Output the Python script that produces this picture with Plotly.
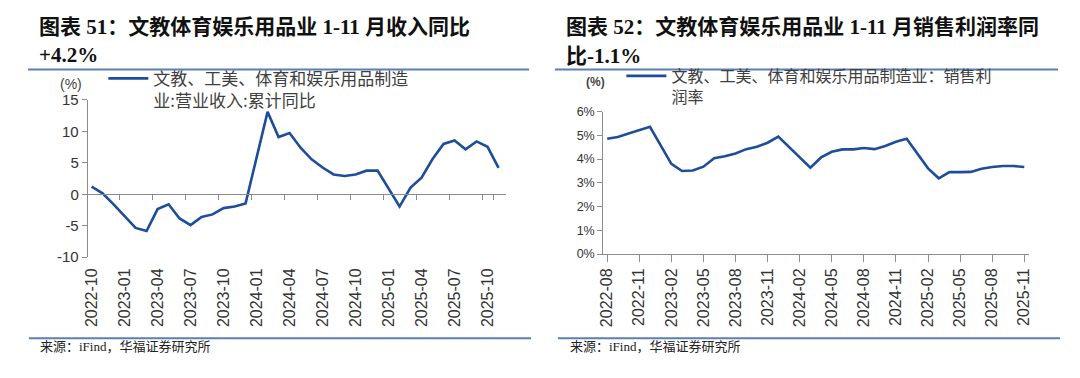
import plotly.graph_objects as go

# ---------------- data ----------------
left_months = ["2022-10", "2022-11", "2022-12",
               "2023-01", "2023-02", "2023-03", "2023-04", "2023-05", "2023-06",
               "2023-07", "2023-08", "2023-09", "2023-10", "2023-11", "2023-12",
               "2024-01", "2024-02", "2024-03", "2024-04", "2024-05", "2024-06",
               "2024-07", "2024-08", "2024-09", "2024-10", "2024-11", "2024-12",
               "2025-01", "2025-02", "2025-03", "2025-04", "2025-05", "2025-06",
               "2025-07", "2025-08", "2025-09", "2025-10", "2025-11"]
left_values = [1.2, 0.15, -1.6,
               None, -5.35, -5.85, -2.35, -1.6, -3.85,
               -4.9, -3.6, -3.2, -2.2, -1.95, -1.45,
               None, 13.1, 9.1, 9.75, 7.4, 5.55,
               4.25, 3.15, 2.9, 3.15, 3.75, 3.75,
               None, -1.95, 1.05, 2.65, 5.6, 8.0,
               8.55, 7.15, 8.4, 7.55, 4.2]
left_ticks = left_months[::3]
left_yvals = [-10, -5, 0, 5, 10, 15]
left_ylabels = ["-10", "-5", "0", "5", "10", "15"]
left_name = "文教、工美、体育和娱乐用品制造<br>业:营业收入:累计同比"

right_months = ["2022-08", "2022-09", "2022-10", "2022-11", "2022-12",
                "2023-01", "2023-02", "2023-03", "2023-04", "2023-05", "2023-06",
                "2023-07", "2023-08", "2023-09", "2023-10", "2023-11", "2023-12",
                "2024-01", "2024-02", "2024-03", "2024-04", "2024-05", "2024-06",
                "2024-07", "2024-08", "2024-09", "2024-10", "2024-11", "2024-12",
                "2025-01", "2025-02", "2025-03", "2025-04", "2025-05", "2025-06",
                "2025-07", "2025-08", "2025-09", "2025-10", "2025-11"]
right_values = [4.86, 4.93, 5.08, 5.22, 5.36,
                None, 3.8, 3.5, 3.52, 3.68, 4.04,
                4.12, 4.24, 4.42, 4.52, 4.69, 4.95,
                None, None, 3.64, 4.07, 4.31, 4.41,
                4.41, 4.47, 4.42, 4.55, 4.73, 4.86,
                None, 3.61, 3.19, 3.45, 3.45, 3.46,
                3.59, 3.67, 3.71, 3.71, 3.67]
right_ticks = right_months[::3]
right_name = "文教、工美、体育和娱乐用品制造业：销售利<br>润率"

left_title = ["图表 51：文教体育娱乐用品业 1-11 月收入同比", "+4.2%"]
right_title = ["图表 52：文教体育娱乐用品业 1-11 月销售利润率同", "比-1.1%"]
source_text = "来源：iFind，华福证券研究所"

# ---------------- style ----------------
PAGE_W, PAGE_H = 1080, 378
BODY_MARGIN = 8          # default page margin around the plot div
W, H = PAGE_W - 2 * BODY_MARGIN, PAGE_H - 2 * BODY_MARGIN
LINE = "#1e4d9b"
AX = "#8c8c8c"
TICKC = "#333333"
RULE = "#5a7fb3"
CJK = "Noto Sans CJK SC"
SANS = "Liberation Sans, Arial, " + CJK
SERIF = "Liberation Serif, Times New Roman, " + CJK


def px(x):
    """page pixel x -> paper fraction"""
    return (x - BODY_MARGIN) / W


def py(y):
    """page pixel y (from top) -> paper fraction"""
    return 1 - (y - BODY_MARGIN) / H


L_dom_x = [px(83.3), px(505)]
L_dom_y = [py(260), py(95)]
R_dom_x = [px(602.7), px(1031.7)]
R_dom_y = [py(256.7), py(107.3)]

L_yr = [-10, 15]
zero_pos = L_dom_y[0] + (0 - L_yr[0]) / (L_yr[1] - L_yr[0]) * (L_dom_y[1] - L_dom_y[0])

fig = go.Figure()

fig.add_trace(go.Scatter(
    x=left_months, y=left_values, mode="lines", name=left_name,
    line=dict(color=LINE, width=2.6), connectgaps=True,
    xaxis="x", yaxis="y", legend="legend", hoverinfo="skip"))
# invisible copy that carries the zero-crossing axis with its tick marks
fig.add_trace(go.Scatter(
    x=left_months, y=left_values, mode="lines", showlegend=False,
    line=dict(color="rgba(0,0,0,0)", width=0), connectgaps=True,
    xaxis="x3", yaxis="y", hoverinfo="skip"))
fig.add_trace(go.Scatter(
    x=right_months, y=right_values, mode="lines", name=right_name,
    line=dict(color=LINE, width=2.6), connectgaps=True,
    xaxis="x2", yaxis="y2", legend="legend2", hoverinfo="skip"))

tickfont_x = dict(family=SANS, size=16, color=TICKC)

fig.update_layout(
    width=W, height=H,
    margin=dict(l=0, r=0, t=0, b=0),
    paper_bgcolor="white", plot_bgcolor="white",
    font=dict(family=SANS, color=TICKC),
    xaxis=dict(domain=L_dom_x, anchor="y", type="category",
               categoryorder="array", categoryarray=left_months,
               range=[-0.35, 37.7], tickmode="array", tickvals=left_ticks,
               ticktext=left_ticks, tickangle=-90, ticks="", showline=False,
               showgrid=False, zeroline=False, tickfont=tickfont_x,
               ticklabelstandoff=7),
    xaxis3=dict(overlaying="x", matches="x", anchor="free", position=zero_pos,
                type="category", tickmode="array", tickvals=left_ticks,
                tickson="boundaries", ticks="outside", ticklen=5, tickcolor=AX,
                showticklabels=False, showline=True, linecolor=AX, linewidth=1,
                showgrid=False, zeroline=False),
    yaxis=dict(domain=L_dom_y, anchor="x", range=L_yr,
               tickmode="array", tickvals=left_yvals, ticktext=left_ylabels,
               ticks="outside", ticklen=5, tickcolor=AX, showline=True,
               linecolor=AX, linewidth=1, showgrid=False, zeroline=False,
               tickfont=dict(family=SANS, size=15, color=TICKC)),
    xaxis2=dict(domain=R_dom_x, anchor="y2", type="category",
                categoryorder="array", categoryarray=right_months,
                range=[-0.37, 39.44], tickmode="array", tickvals=right_ticks,
                ticktext=right_ticks, tickangle=-90, ticks="outside", ticklen=7,
                tickcolor=AX, showline=True, linecolor=AX, linewidth=1,
                showgrid=False, zeroline=False, tickfont=tickfont_x),
    yaxis2=dict(domain=R_dom_y, anchor="x2", range=[0, 6], dtick=1,
                ticksuffix="%", ticks="outside", ticklen=5, tickcolor=AX,
                showline=True, linecolor=AX, linewidth=1, showgrid=False,
                zeroline=False, tickfont=dict(family=SANS, size=12.5, color=TICKC)),
    legend=dict(x=px(99), y=py(54), xanchor="left", yanchor="top",
                bgcolor="rgba(0,0,0,0)", borderwidth=0, valign="top",
                font=dict(family=CJK, size=17, color="#404040"),
                itemwidth=40, tracegroupgap=0),
    legend2=dict(x=px(621), y=py(52), xanchor="left", yanchor="top",
                 bgcolor="rgba(0,0,0,0)", borderwidth=0, valign="top",
                 font=dict(family=CJK, size=16, color="#404040"),
                 itemwidth=40, tracegroupgap=0),
    showlegend=True,
)

ann = []
title_font = dict(family=SERIF, size=21, color="#111111")
for txt, yy in zip(left_title, [18, 47.5]):
    ann.append(dict(text="<b>" + txt + "</b>", x=px(32), y=py(yy), xref="paper",
                    yref="paper", xanchor="left", yanchor="middle",
                    showarrow=False, font=title_font))
for txt, yy in zip(right_title, [18, 49]):
    ann.append(dict(text="<b>" + txt + "</b>", x=px(563), y=py(yy), xref="paper",
                    yref="paper", xanchor="left", yanchor="middle",
                    showarrow=False, font=title_font))
for xx in [33, 567]:
    ann.append(dict(text=source_text, x=px(xx), y=py(354), xref="paper",
                    yref="paper", xanchor="left", yanchor="middle",
                    showarrow=False,
                    font=dict(family=SERIF, size=13, color="#222222")))
ann.append(dict(text="(%)", x=px(66), y=py(78), xref="paper", yref="paper",
                xanchor="center", yanchor="middle", showarrow=False,
                font=dict(family=SANS, size=14, color="#444444")))
ann.append(dict(text="<b>(%)</b>", x=px(595), y=py(76), xref="paper", yref="paper",
                xanchor="center", yanchor="middle", showarrow=False,
                font=dict(family=SANS, size=12, color="#444444")))
fig.update_layout(annotations=ann)

shapes = []
for x0, x1 in [(23, 528), (554, 1061)]:
    shapes.append(dict(type="line", xref="paper", yref="paper",
                       x0=px(x0), x1=px(x1), y0=py(63), y1=py(63),
                       line=dict(color=RULE, width=2)))
for x0, x1 in [(24, 530), (557, 1063)]:
    shapes.append(dict(type="line", xref="paper", yref="paper",
                       x0=px(x0), x1=px(x1), y0=py(345), y1=py(345),
                       line=dict(color=RULE, width=2)))
fig.update_layout(shapes=shapes)

fig.write_html("out.html", config={"displayModeBar": False})
